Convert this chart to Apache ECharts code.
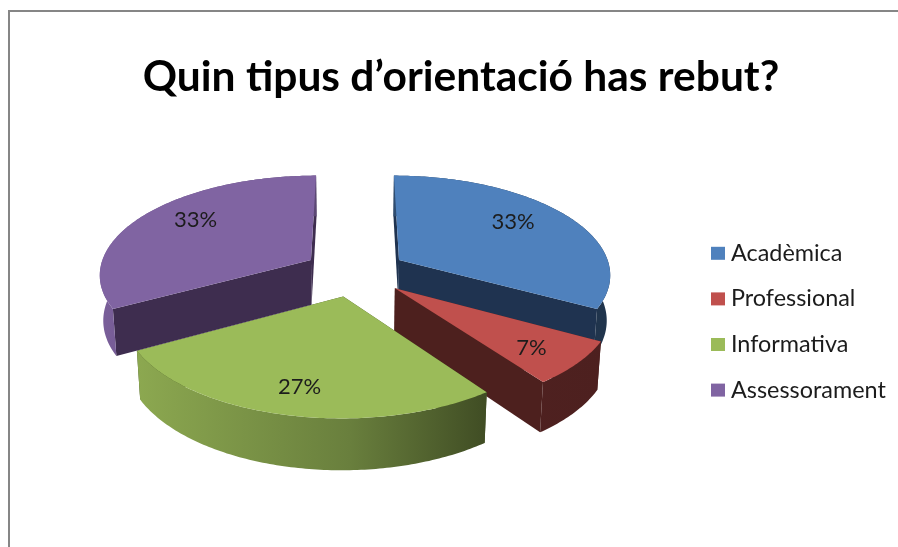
<!DOCTYPE html>
<html>
<head>
<meta charset="utf-8">
<style>
  html, body { margin: 0; padding: 0; background: #fff; }
  #chart { width: 898px; height: 547px; }
</style>
<script src="https://cdn.jsdelivr.net/npm/echarts@6/dist/echarts.min.js"></script>
</head>
<body>
<div id="chart"></div>
<script>
const titleText = 'Quin tipus d’orientació has rebut?';
const categories = ['Acadèmica', 'Professional', 'Informativa', 'Assessorament'];
const percents = [33, 7, 27, 33];

const topColors = ['#4f81bd', '#c0504d', '#9bbb59', '#8064a2'];
const wallColors = ['#1f3350', '#4d201e', '#3f4d20', '#3e2d4f'];
// wall shading runs left to right over the whole pie
const wallShade = [[100, 0.95], [137, 0.9], [350, 0.68], [486, 0.41], [610, 0.4]];
const labelRadius = [0.725, 0.785, 0.79, 0.745];
const labelTurn = [-5, 2, 0, 6];

// ground plane -> screen
const CX = 355, CY = 272, K = 0.465, PERSP = 0.00063, ZPERSP = 0.0003;
const RADIUS = 212, EXPLODE = 52, DEPTH = 46;
const PI2 = Math.PI * 2;

function project(u, v, z) {
    const den = 1 - PERSP * v + ZPERSP * z;
    return [CX + u / den, CY + (K * v + z) / den];
}

function shadeColor(hex, f) {
    const n = parseInt(hex.slice(1), 16);
    const c = [n >> 16, (n >> 8) & 255, n & 255].map(d => Math.round(d * f));
    return `rgb(${c.join(',')})`;
}

function wallGradient(hex) {
    const x0 = wallShade[0][0];
    const x1 = wallShade[wallShade.length - 1][0];
    return {
        type: 'linear', global: true, x: x0, y: 0, x2: x1, y2: 0,
        colorStops: wallShade.map(s => ({ offset: (s[0] - x0) / (x1 - x0), color: shadeColor(hex, s[1]) }))
    };
}

const total = percents.reduce((a, b) => a + b, 0);

function renderSlice(index) {
    return function (params, api) {
        const value = api.value(0);
        const before = percents.slice(0, index).reduce((a, b) => a + b, 0);
        const start = before / total * PI2;
        const end = start + value / total * PI2;
        const mid = (start + end) / 2;
        const ou = EXPLODE * Math.sin(mid);
        const ov = -EXPLODE * Math.cos(mid);
        const at = (theta, r, z) => project(ou + r * Math.sin(theta), ov - r * Math.cos(theta), z);

        const arcTop = [], arcBottom = [];
        const steps = Math.ceil((end - start) / 0.015);
        for (let i = 0; i <= steps; i++) {
            const t = start + (end - start) * i / steps;
            arcTop.push(at(t, RADIUS, 0));
            arcBottom.push(at(t, RADIUS, DEPTH));
        }
        const apexTop = at(0, 0, 0);
        const apexBottom = at(0, 0, DEPTH);
        const radialWall = (theta) => ({
            type: 'polygon',
            shape: { points: [apexTop, at(theta, RADIUS, 0), at(theta, RADIUS, DEPTH), apexBottom] },
            style: { fill: wallColors[index] }
        });
        const labelPos = at(mid + labelTurn[index] * Math.PI / 180, RADIUS * labelRadius[index], 0);

        return {
            type: 'group',
            children: [
                radialWall(start),
                radialWall(end),
                {
                    type: 'polygon',
                    shape: { points: arcTop.concat(arcBottom.slice().reverse()) },
                    style: { fill: wallGradient(topColors[index]) }
                },
                {
                    type: 'polygon',
                    shape: { points: [apexTop].concat(arcTop) },
                    style: { fill: topColors[index] }
                },
                {
                    type: 'text',
                    style: {
                        x: labelPos[0], y: labelPos[1], text: value + '%',
                        fill: '#1c1c1c', fontFamily: 'Lato', fontSize: 22,
                        align: 'center', verticalAlign: 'middle'
                    }
                }
            ]
        };
    };
}

const chart = echarts.init(document.getElementById('chart'));
chart.setOption({
    animation: false,
    backgroundColor: '#fff',
    title: {
        text: titleText,
        left: 456,
        top: 51,
        textAlign: 'center',
        textStyle: { fontFamily: 'Lato', fontWeight: 'bold', fontSize: 42.5, color: '#000' }
    },
    legend: {
        orient: 'vertical',
        left: 706,
        top: 235,
        itemWidth: 14,
        itemHeight: 13,
        itemGap: 19,
        icon: 'rect',
        selectedMode: false,
        data: categories,
        textStyle: { fontFamily: 'Lato', fontSize: 23.4, height: 26.6, lineHeight: 26.6, color: '#1c1c1c', padding: [0, 0, 0, 1] }
    },
    graphic: [{
        type: 'rect',
        silent: true,
        shape: { x: 9, y: 11, width: 1000, height: 1000 },
        style: { fill: 'none', stroke: '#868686', lineWidth: 2 }
    }],
    series: categories.map((name, i) => ({
        type: 'custom',
        name: name,
        coordinateSystem: 'none',
        silent: true,
        itemStyle: { color: topColors[i] },
        data: [percents[i]],
        renderItem: renderSlice(i)
    }))
});
</script>
</body>
</html>
